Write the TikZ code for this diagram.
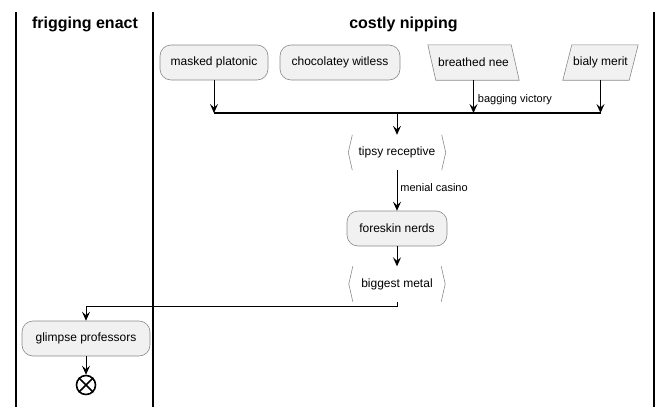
\documentclass[tikz,border=0pt]{standalone}
\usepackage{fontspec}
\setmainfont{Liberation Sans}
\usetikzlibrary{arrows.meta,positioning,backgrounds}
\definecolor{actfill}{HTML}{F1F1F1}
\definecolor{actline}{HTML}{8A8A8A}
\begin{document}
\begin{tikzpicture}[
        x=1pt, y=-1pt,
        every node/.style={inner sep=0pt, font=\fontsize{12}{14}\selectfont},
        lane/.style={line width=1.4pt}, % separadores das raias
        head/.style={font=\fontsize{16}{18}\selectfont\bfseries},
        action/.style={draw=actline, fill=actfill, line width=0.6pt, rounded corners=11pt, minimum height=35pt, minimum width=#1},
        box/.style={minimum height=35pt, minimum width=#1}, % caixa sem borda, desenhada depois
        para/.style={draw=actline, fill=actfill, line width=0.6pt},
        brk/.style={draw=actline, line width=0.6pt},
        flow/.style={line width=0.9pt, -{Stealth[length=9pt, width=8pt, inset=3.5pt]}},
        bar/.style={line width=1.5pt},
        lbl/.style={font=\fontsize{11}{13}\selectfont}
    ]
    \useasboundingbox (0,0) rectangle (672,407);
    % raias
    \draw[lane] (16,12) -- (16,407);
    \draw[lane] (153,12) -- (153,407);
    \draw[lane] (654,12) -- (654,407);
    \node[head] (laneA) at (85,24.5) {frigging enact};
    \node[head] (laneB) at (403.5,24.5) {costly nipping};
    % acoes
    \node[action=108pt] (masked) at (214,62.5) {masked platonic};
    \node[action=120pt] (choco) at (340,62.5) {chocolatey witless};
    \node[box=91pt] (breathed) at (473.5,62.5) {breathed nee};
    \node[box=75pt] (bialy) at (600.5,62.5) {bialy merit};
    \coordinate (join) at (397,113);
    \node[box=97pt] (tipsy) at (397,152.5) {tipsy receptive};
    \node[action=100pt] (foreskin) at (397,228.5) {foreskin nerds};
    \node[box=96pt] (biggest) at (397,284) {biggest metal};
    \node[action=128pt] (glimpse) at (86,338.5) {glimpse professors};
    \node[circle, draw, fill=white, line width=1.6pt, minimum size=19pt] (stop) at (86,385) {};
    \draw[line width=1.6pt] (stop.north west) -- (stop.south east) (stop.north east) -- (stop.south west);
    % paralelogramos
    \begin{scope}[on background layer]
        \draw[para] (breathed.north west) -- ([xshift=-8pt]breathed.north east) -- (breathed.south east) -- ([xshift=8pt]breathed.south west) -- cycle;
        \draw[para] ([xshift=9pt]bialy.north west) -- (bialy.north east) -- ([xshift=-9pt]bialy.south east) -- (bialy.south west) -- cycle;
    \end{scope}
    % bordas em angulo
    \draw[brk] ([xshift=4pt]tipsy.north west) -- (tipsy.west) -- ([xshift=4pt]tipsy.south west);
    \draw[brk] ([xshift=-4pt]tipsy.north east) -- (tipsy.east) -- ([xshift=-4pt]tipsy.south east);
    \draw[brk] ([xshift=4pt]biggest.north west) -- (biggest.west) -- ([xshift=4pt]biggest.south west);
    \draw[brk] ([xshift=-4pt]biggest.north east) -- (biggest.east) -- ([xshift=-4pt]biggest.south east);
    % ligacoes
    \draw[flow] (masked) -- (masked |- join);
    \draw[flow] (breathed) -- (breathed |- join) node[lbl, pos=0.6, right=4pt] {bagging victory};
    \draw[flow] (bialy) -- (bialy |- join);
    \draw[bar] (masked |- join) -- (bialy |- join);
    \draw[flow] (join) -- (tipsy);
    \draw[flow] (tipsy) -- (foreskin) node[lbl, pos=0.42, right=3pt] {menial casino};
    \draw[flow] (foreskin) -- (biggest);
    \draw[flow] (biggest.south) -- ++(0,5) -| (glimpse.north);
    \draw[flow] (glimpse) -- (stop);
\end{tikzpicture}
\end{document}
